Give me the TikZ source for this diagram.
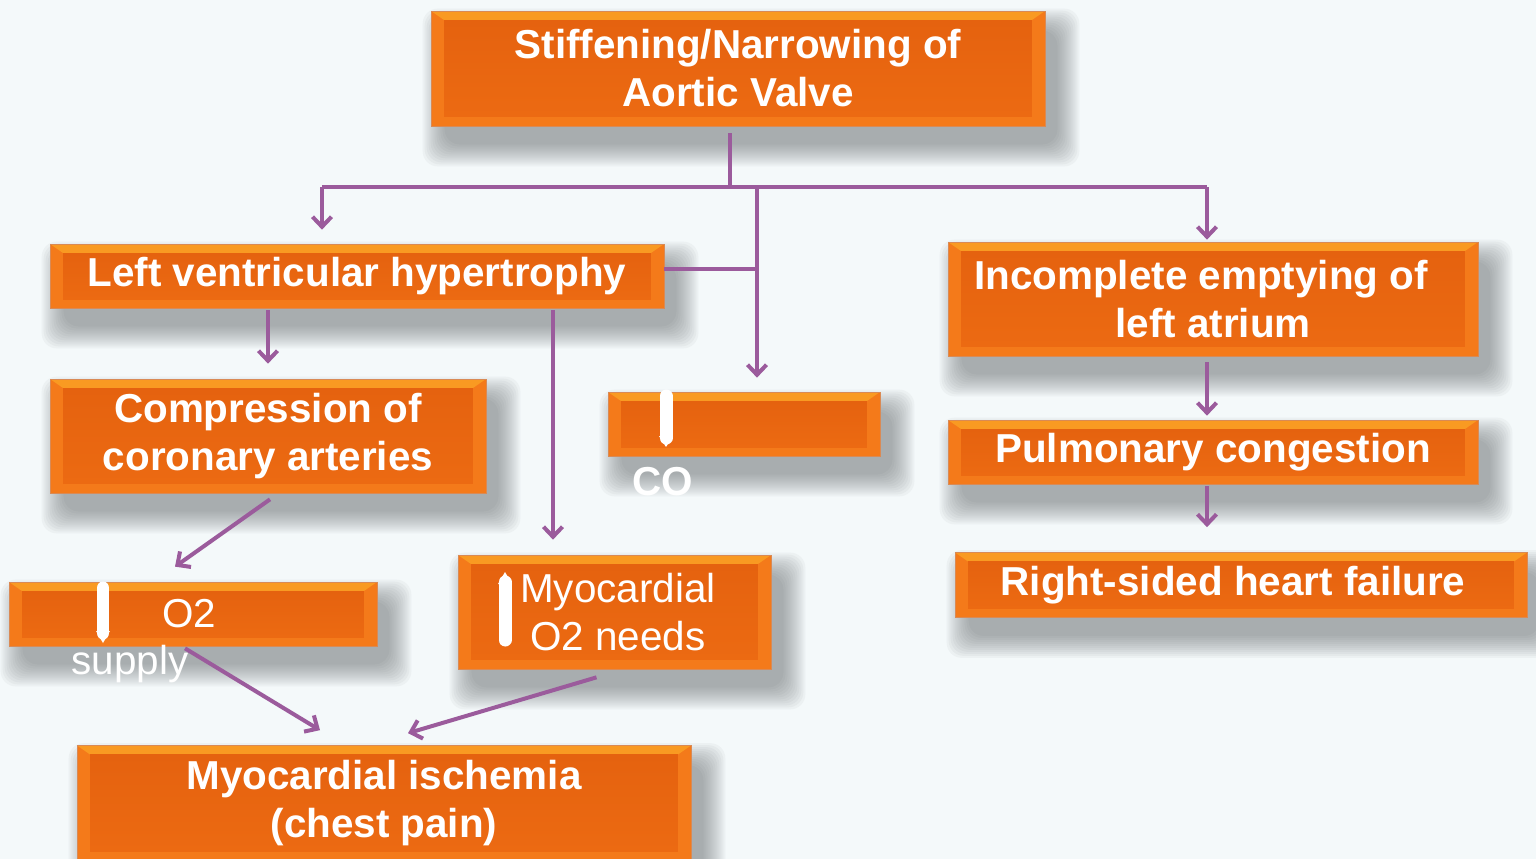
\documentclass[tikz,border=0pt]{standalone}
\usepackage{fontspec}
\setmainfont{Liberation Sans}
\usetikzlibrary{arrows.meta,calc}
\definecolor{bg}{HTML}{F4F9FA}
\definecolor{obase}{HTML}{F47A1A}
\definecolor{otop}{HTML}{F99A22}
\definecolor{oin}{HTML}{E5620F}
\definecolor{oinb}{HTML}{EC6A12}
\definecolor{oedge}{HTML}{D98A55}
\definecolor{connc}{HTML}{9B5B9C}
\definecolor{shc}{HTML}{5A5F62}
\pgfdeclarelayer{back}
\pgfsetlayers{back,main}
\newcommand\softshadow[1]{%
  \foreach \e in {0,2,...,22}{%
    \fill[shc, opacity=0.05, rounded corners=0.3cm]
      ($(#1.north west)+(14-\e,20-\e)$) rectangle ($(#1.south east)+(12+\e,18+\e)$);
  }}
\tikzset{
  obox/.style={draw=oedge, line width=0.4pt, fill=obase, inner sep=0pt,
    path picture={
      \path (path picture bounding box.north west) coordinate (pnw)
            (path picture bounding box.south east) coordinate (pse);
      \fill[otop] (pnw) -- (pnw -| pse) -- ($(pnw -| pse)+(-0.26cm,-0.18cm)$) -- ($(pnw)+(0.26cm,-0.18cm)$) -- cycle;
      \shade[top color=oin, bottom color=oinb] ($(pnw)+(0.26cm,-0.18cm)$) rectangle ($(pse)+(-0.26cm,0.18cm)$);
    },
    text=white, font=\bfseries\fontsize{23}{27.3}\selectfont, align=center},
  plainlbl/.style={text=white, font=\fontsize{23}{27.3}\selectfont, align=center, inner sep=0pt},
  boldlbl/.style={text=white, font=\bfseries\fontsize{23}{27.3}\selectfont, inner sep=0pt},
  line/.style={draw=connc, line width=0.08cm},
  arr/.style={line, -{Straight Barb[length=0.2cm,width=0.38cm]}},
  whitebar/.style={draw=white, line width=0.26cm, line cap=round},
}
\begin{document}
\begin{tikzpicture}[x=0.02cm, y=-0.02cm]
\begin{pgfonlayer}{back}
\fill[bg] (0,0) rectangle (1536,859);
\end{pgfonlayer}
\useasboundingbox (0,0) rectangle (1536,859);
\clip (0,0) rectangle (1536,859);

\node[obox, minimum width=12.28cm, minimum height=2.3cm] (top) at (738,68.5) {Stiffening/Narrowing of\\Aortic Valve};
\node[obox, minimum width=12.28cm, minimum height=1.28cm] (lvh) at (357,276) {Left ventricular hypertrophy};
\node[obox, minimum width=10.6cm, minimum height=2.28cm] (inc) at (1213,299) {\hspace*{-0.48cm}Incomplete emptying of\\left atrium};
\node[obox, minimum width=8.72cm, minimum height=2.28cm] (comp) at (268,436) {Compression of\\coronary arteries};
\node[obox, minimum width=5.44cm, minimum height=1.28cm] (co) at (744,424) {};
\node[obox, minimum width=10.6cm, minimum height=1.28cm] (pulm) at (1213,452) {Pulmonary congestion};
\node[obox, minimum width=11.44cm, minimum height=1.3cm] (rsh) at (1241,585) {\hspace*{-0.32cm}Right-sided heart failure};
\node[obox, minimum width=7.36cm, minimum height=1.28cm] (o2) at (193,614) {};
\node[obox, minimum width=6.26cm, minimum height=2.28cm] (myo) at (614.5,612) {};
\node[obox, minimum width=12.28cm, minimum height=2.3cm] (isch) at (384,803) {Myocardial ischemia\\(chest pain)};

\begin{pgfonlayer}{back}
\foreach \b in {top,lvh,inc,comp,co,pulm,rsh,o2,myo,isch}{\softshadow{\b}}
\end{pgfonlayer}

% labels and white arrows
\draw[whitebar] (666,396) -- (666,438);
\fill[white] (659,436) -- (673,436) -- (666,447) -- cycle;
\node[boldlbl] (colbl) at (663,482) {CO};

\draw[whitebar] (103,588) -- (103,633);
\fill[white] (96,631) -- (110,631) -- (103,643) -- cycle;
\node[plainlbl] (o2lbl) at (189,614) {O2};
\node[plainlbl] (suplbl) at (130,664) {supply};

\draw[whitebar] (505,582) -- (505,640);
\fill[white] (498,584) -- (512,584) -- (505,572) -- cycle;
\node[plainlbl] (myolbl) at (618,612) {Myocardial\\O2 needs};

% connectors
\coordinate (busL) at (322,187);
\coordinate (busM) at (757,187);
\coordinate (busR) at (1207,187);
\coordinate (hub) at (730,187);
\draw[line] ($(top.south)+(-8,7)$) -- (hub);
\draw[line] (busL) -- (busR);
\draw[arr, shorten >=0.28cm] (busL) -- (busL |- lvh.north);
\draw[arr, shorten >=0.04cm] (busR) -- (busR |- inc.north);
\draw[arr, shorten >=0.28cm] (busM) -- (busM |- co.north);
\draw[line] ([yshift=0.14cm]lvh.east) -- ([yshift=0.14cm]lvh.east -| busM);

\draw[arr, shorten <=0.04cm, shorten >=0.3cm] (comp.north |- lvh.south) -- (comp.north);
\coordinate (l2) at ($(lvh.south)+(196,2)$);
\draw[arr, shorten >=0.3cm] (l2) -- (l2 |- myo.north);
\draw[arr] ($(comp.south)+(2,6)$) -- ($(o2.north)+(-18,-15)$);
\draw[arr, shorten <=0.12cm, shorten >=0.08cm] (inc.south -| busR) -- (pulm.north -| busR);
\draw[arr, shorten <=0.04cm, shorten >=0.5cm] (pulm.south -| busR) -- (rsh.north -| busR);
\draw[arr] ($(o2.south)+(-8,2)$) -- ($(isch.north)+(-64,-15)$);
\draw[arr] ($(myo.south)+(-18,8)$) -- ($(isch.north)+(24,-12)$);
\end{tikzpicture}
\end{document}
